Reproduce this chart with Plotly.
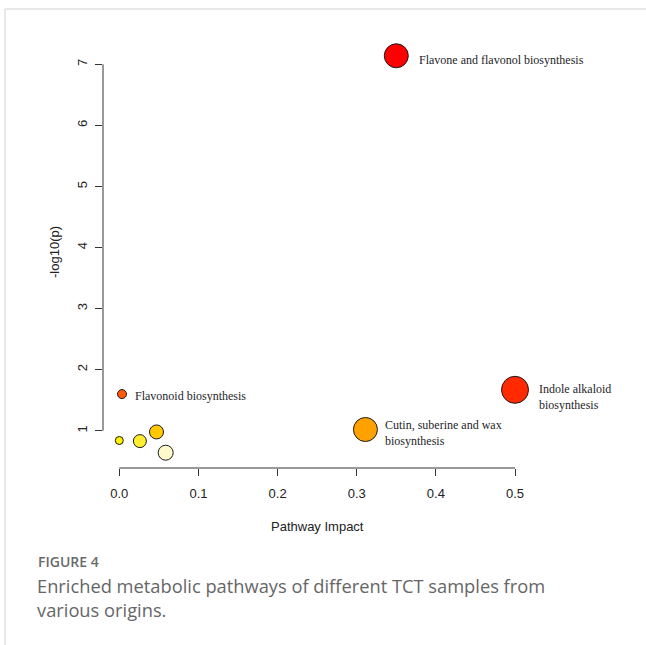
import plotly.graph_objects as go

# Pathway enrichment results
pathway_labels = [
    "Flavone and flavonol biosynthesis",
    "Indole alkaloid<br>biosynthesis",
    "Cutin, suberine and wax<br>biosynthesis",
    "Flavonoid biosynthesis",
    "",
    "",
    "",
    "",
]
pathway_impact = [0.35, 0.50, 0.311, 0.0034, 0.0, 0.026, 0.047, 0.0586]
neg_log10_p = [7.14, 1.67, 1.02, 1.60, 0.84, 0.83, 0.98, 0.64]

x_ticks = [0.0, 0.1, 0.2, 0.3, 0.4, 0.5]
y_ticks = [1, 2, 3, 4, 5, 6, 7]

# Marker styling (fill follows p-value, size follows impact)
marker_fill = ["#FF0000", "#FF2A00", "#FFA200", "#FF5A0A",
               "#FFF200", "#FFEE30", "#FFC800", "#FFFACC"]
marker_diam = [24, 27, 24, 9, 8, 13, 14, 15]
# Label offsets in pixels (right of the point, vertical nudge)
label_dx = [21, 22, 18, 11, 0, 0, 0, 0]
label_dy = [-4, -7, -3, -2, 0, 0, 0, 0]

W, H = 646, 645
ML, MR, MT, MB = 103, 16, 30, 177
PW, PH = W - ML - MR, H - MT - MB


def px_x(px):
    return (px - ML) / PW


def px_y(py):
    return (H - MB - py) / PH


fig = go.Figure()
fig.add_trace(go.Scatter(
    x=pathway_impact,
    y=neg_log10_p,
    mode="markers",
    marker=dict(size=marker_diam, color=marker_fill,
                line=dict(color="#1a1a1a", width=1), opacity=1),
    hoverinfo="x+y",
    showlegend=False,
    cliponaxis=False,
))

annotations = []
for x, y, lab, dx, dy in zip(pathway_impact, neg_log10_p, pathway_labels, label_dx, label_dy):
    if lab:
        annotations.append(dict(
            x=x, y=y, xref="x", yref="y", text=lab, showarrow=False,
            xanchor="left", yanchor="middle", align="left",
            xshift=dx, yshift=dy,
            font=dict(family="Liberation Serif", size=12, color="#1e1e28"),
        ))

# Axis titles
annotations.append(dict(
    x=px_x(317), y=px_y(526), xref="paper", yref="paper",
    text="Pathway Impact", showarrow=False, xanchor="center", yanchor="middle",
    font=dict(family="Liberation Sans", size=13, color="#222222"),
))
annotations.append(dict(
    x=px_x(54), y=px_y(252), xref="paper", yref="paper",
    text="-log10(p)", showarrow=False, xanchor="center", yanchor="middle",
    textangle=-90,
    font=dict(family="Liberation Sans", size=13, color="#222222"),
))

# Figure caption
annotations.append(dict(
    x=px_x(36), y=px_y(561), xref="paper", yref="paper",
    text="FIGURE 4", showarrow=False, xanchor="left", yanchor="middle",
    font=dict(family="Open Sans", size=14, color="#6a6a6a", weight=600),
))
annotations.append(dict(
    x=px_x(35), y=px_y(571), xref="paper", yref="paper",
    text="Enriched metabolic pathways of different TCT samples from<br>various origins.",
    showarrow=False, xanchor="left", yanchor="top", align="left",
    font=dict(family="Open Sans", size=18.3, color="#666666"),
))

shapes = [
    # R-style axis lines spanning only the tick range
    dict(type="line", xref="paper", yref="y", x0=0, x1=0,
         y0=y_ticks[0], y1=y_ticks[-1], line=dict(color="#333333", width=1)),
    dict(type="line", xref="x", yref="paper", x0=x_ticks[0], x1=x_ticks[-1],
         y0=0, y1=0, line=dict(color="#333333", width=1)),
    # page frame
    dict(type="line", xref="paper", yref="paper", x0=px_x(5), x1=px_x(W),
         y0=px_y(9), y1=px_y(9), line=dict(color="#d2d2d2", width=1)),
    dict(type="line", xref="paper", yref="paper", x0=px_x(5), x1=px_x(5),
         y0=px_y(9), y1=px_y(H), line=dict(color="#d2d2d2", width=1)),
]

fig.update_layout(
    width=W, height=H,
    margin=dict(l=ML, r=MR, t=MT, b=MB, autoexpand=False),
    paper_bgcolor="white", plot_bgcolor="white",
    annotations=annotations, shapes=shapes,
    xaxis=dict(range=[-0.0206, 0.6453], tickvals=x_ticks, tickformat=".1f",
               ticks="outside", ticklen=7, tickwidth=1, tickcolor="#333333",
               ticklabelstandoff=6,
               showline=False, showgrid=False, zeroline=False,
               tickfont=dict(family="Liberation Sans", size=13, color="#222222")),
    yaxis=dict(range=[0.3897, 7.562], tickvals=y_ticks, tickangle=-90,
               ticks="outside", ticklen=7, tickwidth=1, tickcolor="#333333",
               ticklabelstandoff=3,
               showline=False, showgrid=False, zeroline=False,
               tickfont=dict(family="Liberation Sans", size=13, color="#222222")),
)

fig.write_html("out.html")
